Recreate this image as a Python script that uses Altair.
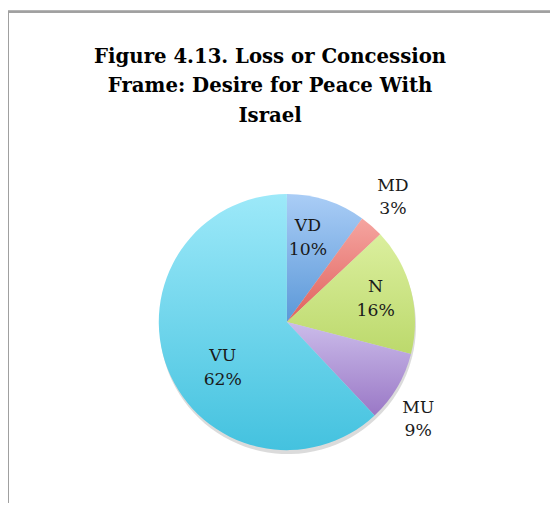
import altair as alt
import pandas as pd

labels = ["VD", "MD", "N", "MU", "VU"]
values = [10, 3, 16, 9, 62]
order = [0, 1, 2, 3, 4]

top_colors = ["#aacdf6", "#f5a5a0", "#dbef9e", "#cbbcea", "#9de9f9"]
bottom_colors = ["#5b98d8", "#e0605c", "#bcd96c", "#9a78c6", "#44c2df"]

# label placement style: (radius in px, angular offset in degrees)
label_style = {"VD": (88, -4), "MD": (166, -1), "N": (93, 0), "MU": (166, 6), "VU": (80, -14)}

df = pd.DataFrame({"label": labels, "value": values, "order": order})

CX, CY, R = 283, 315, 130
W, H = 550, 498

base = (
    alt.Chart(df)
    .transform_stack(stack="value", groupby=[], as_=["start", "end"],
                     sort=[alt.SortField("order", order="ascending")])
    .transform_calculate(mid="(datum.start + datum.end) / 2",
                         txt="datum.label + '|' + datum.value + '%'")
)
tscale = alt.Scale(domain=[0, 100])

shadow = base.mark_arc(radius=R, color="#000000", opacity=0.14).encode(
    theta=alt.Theta("start:Q", scale=tscale), theta2="end:Q",
    x=alt.value(CX + 1), y=alt.value(CY + 4))

slices = []
for lab, c1, c2 in zip(labels, top_colors, bottom_colors):
    slices.append(
        base.transform_filter(alt.datum.label == lab)
        .mark_arc(radius=R, color=alt.Gradient(
            gradient="linear", x1=0, y1=0, x2=0, y2=1,
            stops=[alt.GradientStop(offset=0, color=c1),
                   alt.GradientStop(offset=1, color=c2)]))
        .encode(theta=alt.Theta("start:Q", scale=tscale), theta2="end:Q",
                x=alt.value(CX), y=alt.value(CY))
    )

texts = []
for lab in labels:
    rad, off = label_style[lab]
    texts.append(
        base.transform_filter(alt.datum.label == lab).mark_text(
            radius=rad, thetaOffset=off * 3.14159265 / 180,
            font="DejaVu Serif", fontSize=17.5, lineBreak="|", lineHeight=24,
            color="#1a1a1a", baseline="middle", dy=-12).encode(
            theta=alt.Theta("mid:Q", scale=tscale), text="txt:N",
            x=alt.value(CX), y=alt.value(CY))
    )

top_rule = alt.Chart(df).mark_rule(color="#a0a0a0", strokeWidth=2).encode(
    x=alt.value(0), x2=alt.value(W), y=alt.value(0))
left_rule = alt.Chart(df).mark_rule(color="#a0a0a0", strokeWidth=2).encode(
    x=alt.value(0), y=alt.value(0), y2=alt.value(H))

chart = alt.layer(top_rule, left_rule, shadow, *slices, *texts).properties(
    width=W, height=H,
    autosize=alt.AutoSizeParams(type="none"),
    padding=0,
    title=alt.Title(["Figure 4.13. Loss or Concession", "Frame: Desire for Peace With", "Israel"],
                    font="DejaVu Serif", fontSize=20, fontWeight="bold", lineHeight=30,
                    color="#000000", anchor="middle", dx=-9, dy=121),
).configure_view(stroke=None)

chart.save("out.html", embed_options={"renderer": "svg", "actions": False})
